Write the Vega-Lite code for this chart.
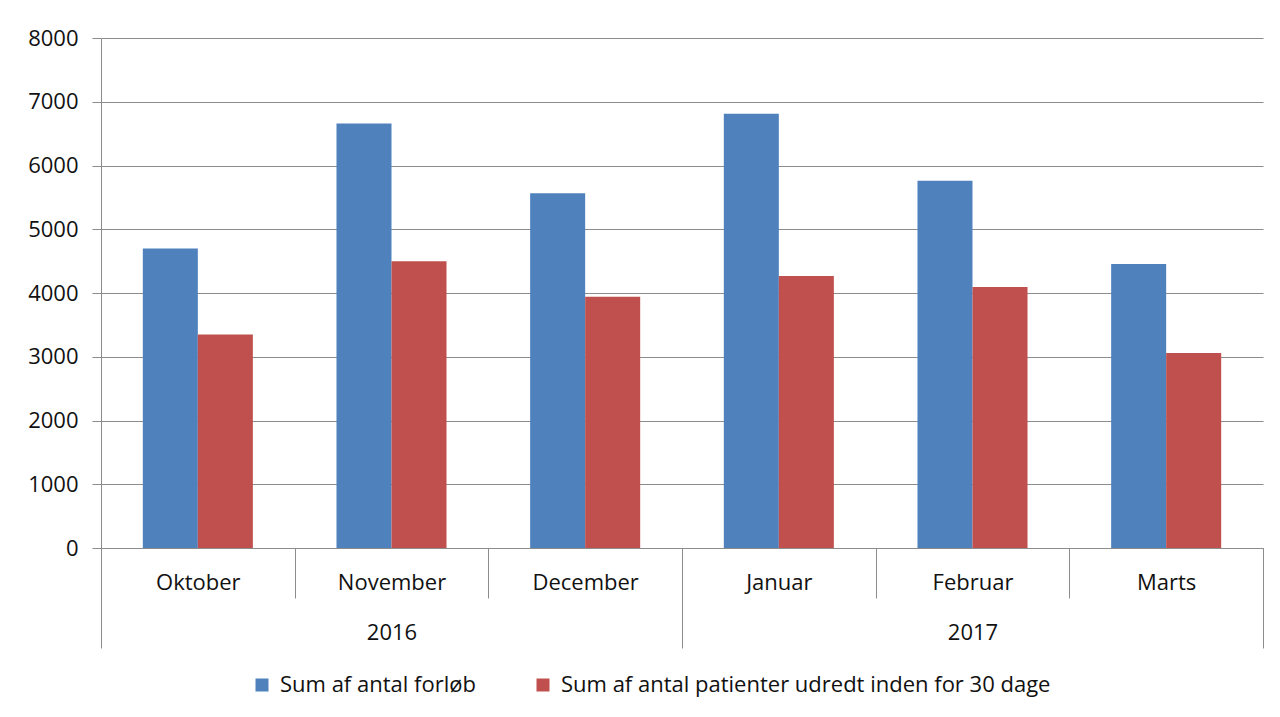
{
  "$schema": "https://vega.github.io/schema/vega-lite/v6.json",
  "autosize": "none",
  "width": 1162,
  "height": 510,
  "padding": {"left": 101, "top": 38, "right": 17, "bottom": 169},
  "background": "white",
  "config": {
    "view": {"stroke": null},
    "font": "Open Sans",
    "axis": {"labelFont": "Open Sans", "labelColor": "#111111", "labelFontSize": 22, "domainColor": "#8c8c8c", "tickColor": "#8c8c8c", "gridColor": "#8c8c8c"}
  },
  "data": {
    "values": [
      {"year": "2016", "month": "Oktober", "series": "Sum af antal forløb", "value": 4700},
      {"year": "2016", "month": "Oktober", "series": "Sum af antal patienter udredt inden for 30 dage", "value": 3350},
      {"year": "2016", "month": "November", "series": "Sum af antal forløb", "value": 6660},
      {"year": "2016", "month": "November", "series": "Sum af antal patienter udredt inden for 30 dage", "value": 4500},
      {"year": "2016", "month": "December", "series": "Sum af antal forløb", "value": 5565},
      {"year": "2016", "month": "December", "series": "Sum af antal patienter udredt inden for 30 dage", "value": 3940},
      {"year": "2017", "month": "Januar", "series": "Sum af antal forløb", "value": 6810},
      {"year": "2017", "month": "Januar", "series": "Sum af antal patienter udredt inden for 30 dage", "value": 4265},
      {"year": "2017", "month": "Februar", "series": "Sum af antal forløb", "value": 5760},
      {"year": "2017", "month": "Februar", "series": "Sum af antal patienter udredt inden for 30 dage", "value": 4095},
      {"year": "2017", "month": "Marts", "series": "Sum af antal forløb", "value": 4455},
      {"year": "2017", "month": "Marts", "series": "Sum af antal patienter udredt inden for 30 dage", "value": 3060}
    ]
  },
  "layer": [
    {
      "mark": {"type": "bar"},
      "encoding": {
        "x": {
          "field": "month", "type": "nominal",
          "sort": ["Oktober", "November", "December", "Januar", "Februar", "Marts"],
          "scale": {"paddingInner": 0, "paddingOuter": 0},
          "axis": {"orient": "bottom", "title": null, "labelAngle": 0, "tickBand": "extent", "tickSize": 50, "labelPadding": -16, "labelBaseline": "middle", "grid": false, "domain": true}
        },
        "xOffset": {
          "field": "series", "type": "nominal",
          "scale": {"paddingInner": 0, "paddingOuter": 0.76}
        },
        "y": {
          "field": "value", "type": "quantitative",
          "scale": {"domain": [0, 8000], "nice": false},
          "axis": {"title": null, "values": [0, 1000, 2000, 3000, 4000, 5000, 6000, 7000, 8000], "format": "d", "tickSize": 9, "labelPadding": 14, "grid": true, "domain": true}
        },
        "color": {
          "field": "series", "type": "nominal",
          "scale": {"domain": ["Sum af antal forløb", "Sum af antal patienter udredt inden for 30 dage"], "range": ["#4F81BD", "#C0504D"]},
          "legend": {
            "title": null, "orient": "none", "direction": "horizontal",
            "legendX": 150, "legendY": 636,
            "symbolType": "square", "symbolSize": 169, "symbolStrokeWidth": 0,
            "labelFont": "Open Sans", "labelFontSize": 22, "labelColor": "#111111", "labelLimit": 0,
            "labelOffset": 7, "columnPadding": 56
          }
        }
      }
    },
    {
      "mark": {"type": "point", "opacity": 0},
      "encoding": {
        "x": {
          "datum": 0, "type": "quantitative",
          "scale": {"domain": [0, 6], "nice": false, "zero": false},
          "axis": {
            "orient": "bottom", "title": null, "values": [0, 1.5, 3, 4.5, 6],
            "labelExpr": "datum.value == 1.5 ? '2016' : (datum.value == 4.5 ? '2017' : '')",
            "tickOpacity": {"expr": "datum.value % 3 == 0 ? 1 : 0"},
            "tickSize": 100, "labelPadding": -16, "labelBaseline": "middle", "labelAngle": 0,
            "labelOverlap": false, "labelBound": false, "labelFlush": false,
            "grid": false, "domain": false
          }
        }
      }
    }
  ],
  "resolve": {"scale": {"x": "independent"}, "axis": {"x": "independent"}}
}
